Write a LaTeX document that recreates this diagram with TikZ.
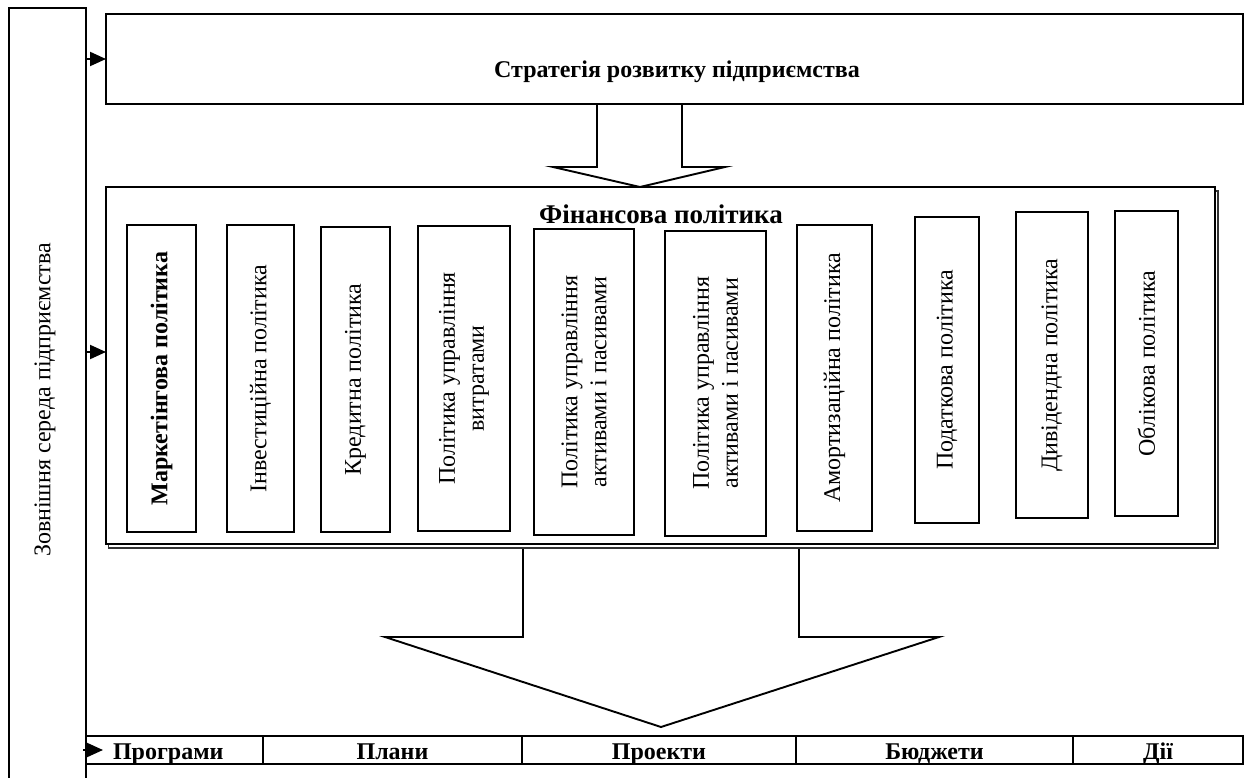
\documentclass[tikz,border=0pt]{standalone}
\usepackage{fontspec}
\setmainfont{Liberation Serif}
\usetikzlibrary{arrows.meta}
\begin{document}
\begin{tikzpicture}[x=1pt,y=-1pt,
  every node/.style={inner sep=0pt, outer sep=0pt},
  box/.style={draw, line width=2pt, rectangle, fill=white},
  pol/.style={box, rotate=90, align=center, font=\fontsize{24}{29}\selectfont},
  cell/.style={draw, line width=2.6pt, anchor=north west, minimum height=28, text height=23, text depth=5, font=\bfseries\fontsize{24}{28}\selectfont},
  inarrow/.style={line width=2pt, -{Triangle[length=16pt,width=14pt]}},
  blockarrow/.style={line width=1.9pt, line join=miter}]
\path[use as bounding box, clip] (0,0) rectangle (1244,778);
\fill[white] (0,0) rectangle (1244,778);

% external environment (left column)
\node[box, anchor=north west, minimum width=77, minimum height=800] (ext) at (9,8) {};
\node[rotate=90, font=\fontsize{24}{28}\selectfont] (extlabel) at (45,400) {Зовнішня середа підприємства};

% strategy box
\node[box, anchor=north west, minimum width=1137, minimum height=90] (strat) at (106,14) {};
\node[anchor=base, font=\bfseries\fontsize{24}{28}\selectfont] (strattext) at (677,78) {Стратегія розвитку підприємства};

% block arrow strategy -> financial policy
\draw[blockarrow] (597,104) -- (597,167) -- (553,167) -- (640,187) -- (725,167) -- (682,167) -- (682,104);

% lower block arrow
\draw[blockarrow] (523,548) -- (523,637) -- (385,637) -- (661,727) -- (939,637) -- (799,637) -- (799,548);

% financial policy box with shadow
\draw[line width=1.8pt, black!80] (108.5,191) rectangle (1218,548);
\node[box, anchor=north west, minimum width=1109, minimum height=357] (fin) at (106,187) {};
\node[anchor=base, font=\bfseries\fontsize{27}{30}\selectfont] (fintitle) at (661,223.5) {Фінансова політика};
\coordinate (finin) at ([yshift=13.5pt]fin.west);

% policies
\node[pol, minimum width=307, minimum height=69, font=\bfseries\fontsize{24}{29}\selectfont] (p1) at (161.5,378.5) {Маркетінгова політика};
\node[pol, minimum width=307, minimum height=67] (p2) at (260.5,378.5) {Інвестиційна політика};
\node[pol, minimum width=305, minimum height=69] (p3) at (355.5,379.5) {Кредитна політика};
\node[pol, minimum width=305, minimum height=92] (p4) at (464,378.5) {Політика управління\\витратами};
\node[pol, minimum width=306, minimum height=100] (p5) at (584,382) {Політика управління\\активами і пасивами};
\node[pol, minimum width=305, minimum height=101] (p6) at (715.5,383.3) {Політика управління\\активами і пасивами};
\node[pol, minimum width=306, minimum height=75] (p7) at (834.5,378) {Амортизаційна політика};
\node[pol, minimum width=306, minimum height=64] (p8) at (947,370) {Податкова політика};
\node[pol, minimum width=306, minimum height=72] (p9) at (1052,365) {Дивідендна політика};
\node[pol, minimum width=305, minimum height=63] (p10) at (1146.5,363.5) {Облікова політика};

% bottom table
\node[cell, minimum width=177, text width=177, align=left] (c1) at (86,736) {\hspace*{27pt}Програми};
\node[cell, minimum width=259] (c2) at (263,736) {Плани};
\node[cell, minimum width=274] (c3) at (522,736) {Проекти};
\node[cell, minimum width=277] (c4) at (796,736) {Бюджети};
\node[cell, minimum width=170] (c5) at (1073,736) {Дії};

% arrows from the external environment
\draw[inarrow] (ext.east |- strat.west) -- (strat.west);
\draw[inarrow] (ext.east |- finin) -- (finin);
\draw[inarrow] ([xshift=-3pt]ext.east |- c1.west) -- ([xshift=17pt]c1.west);
\end{tikzpicture}
\end{document}
